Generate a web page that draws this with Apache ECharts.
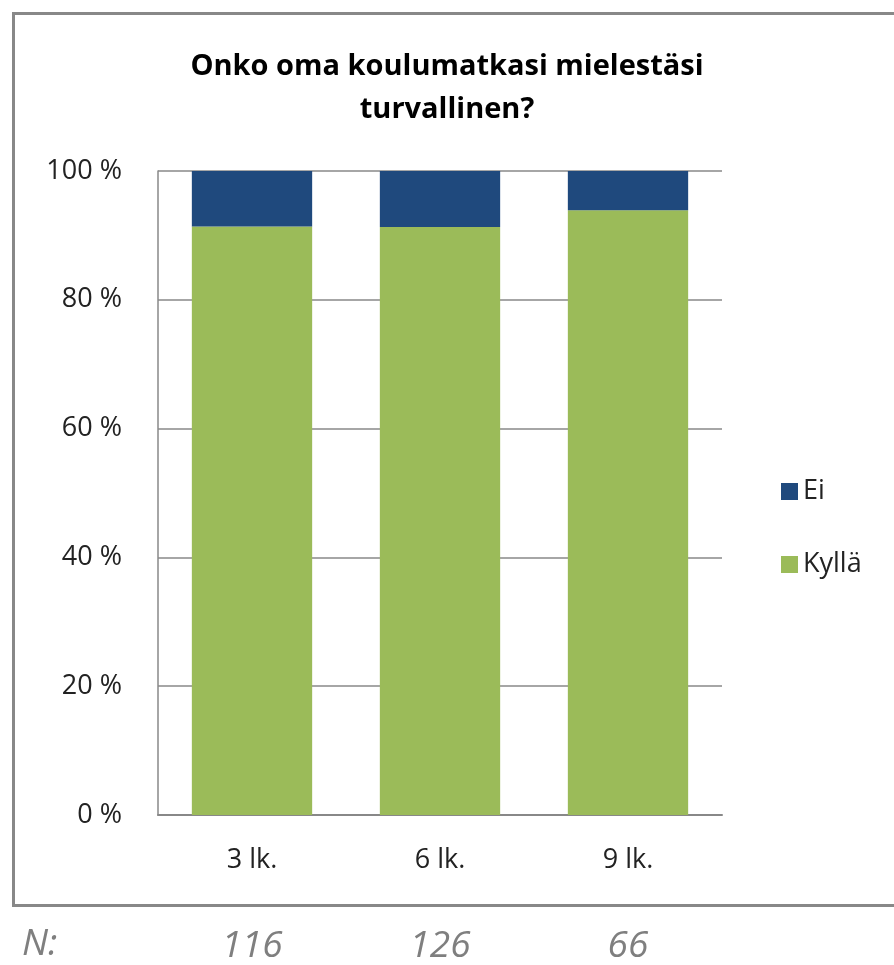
<!DOCTYPE html>
<html lang="fi">
<head>
<meta charset="UTF-8">
<title>Koulumatka</title>
<script src="https://cdn.jsdelivr.net/npm/echarts@6/dist/echarts.min.js"></script>
<style>
  html, body { margin: 0; padding: 0; background: #fff; }
  #chart { width: 894px; height: 965px; }
</style>
</head>
<body>
<div id="chart"></div>
<script>
// luokat ja vastaukset (%)
var luokat = ['3 lk.', '6 lk.', '9 lk.'];
var kylla = [91.4, 91.3, 93.9];
var ei = [8.6, 8.7, 6.1];
var vastaajat = [116, 126, 66];   // N

var fontti = "'Liberation Sans Narrow', 'Open Sans', sans-serif";

var chart = echarts.init(document.getElementById('chart'));
var option = {
    backgroundColor: '#fff',
    animation: false,
    title: {
        text: 'Onko oma koulumatkasi mielestäsi\nturvallinen?',
        left: 'center',
        top: 40,
        textStyle: { fontFamily: fontti, fontSize: 29, fontWeight: 'bold', color: '#000', lineHeight: 43 }
    },
    legend: {
        orient: 'vertical',
        left: 776,
        top: 473,
        icon: 'rect',
        itemWidth: 17,
        itemHeight: 17,
        itemGap: 46,
        data: ['Ei', 'Kyllä'],
        textStyle: { fontFamily: fontti, fontSize: 27, color: '#222' }
    },
    grid: { left: 158, right: 172, top: 171, bottom: 150 },
    xAxis: [
        {
            type: 'category',
            data: luokat,
            axisLine: { lineStyle: { color: '#888', width: 2 } },
            axisTick: { show: false },
            axisLabel: { fontFamily: fontti, fontSize: 27, color: '#222', margin: 32 }
        },
        {
            type: 'category',
            position: 'bottom',
            offset: 105,
            data: vastaajat.map(String),
            axisLine: { show: false },
            axisTick: { show: false },
            axisLabel: { fontFamily: fontti, fontSize: 37, fontStyle: 'italic', color: '#7f7f7f', margin: 8 }
        }
    ],
    yAxis: {
        type: 'value',
        min: 0,
        max: 100,
        interval: 20,
        axisLine: { show: true, lineStyle: { color: '#888', width: 1.5 } },
        axisTick: { show: false },
        splitLine: { lineStyle: { color: '#888', width: 1.5 } },
        axisLabel: { formatter: '{value} %', fontFamily: fontti, fontSize: 27, color: '#222', margin: 36 }
    },
    series: [
        {
            name: 'Kyllä',
            type: 'bar',
            stack: 'yht',
            barWidth: '64%',
            data: kylla,
            itemStyle: { color: '#9BBB59' }
        },
        {
            name: 'Ei',
            type: 'bar',
            stack: 'yht',
            barWidth: '64%',
            data: ei,
            itemStyle: { color: '#1F497D' }
        }
    ],
    graphic: [
        {
            type: 'rect',
            shape: { x: 13.5, y: 13.5, width: 900, height: 892 },
            style: { fill: null, stroke: '#888', lineWidth: 3 },
            silent: true
        },
        {
            type: 'text',
            left: 22,
            top: 926,
            style: { text: 'N:', font: 'italic 37px ' + fontti, fill: '#7f7f7f' }
        }
    ]
};
chart.setOption(option);
</script>
</body>
</html>
